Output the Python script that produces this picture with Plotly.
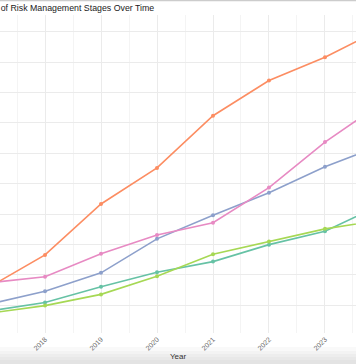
import plotly.graph_objects as go

years = [2017, 2018, 2019, 2020, 2021, 2022, 2023, 2024]

stage_names = ["Risk Assessment", "Risk Identification", "Risk Mitigation",
               "Risk Monitoring", "Risk Review"]
colors = ["#66c2a5", "#fc8d62", "#8da0cb", "#e78ac3", "#a6d854"]

assessment = [8.0, 10.8, 16.0, 20.8, 24.3, 29.9, 34.3, 43.0]
identification = [15.9, 26.5, 43.3, 55.2, 72.4, 84.0, 91.7, 101.0]
mitigation = [10.3, 14.5, 20.6, 31.8, 39.6, 47.0, 55.6, 62.6]
monitoring = [17.3, 19.3, 26.9, 33.1, 37.1, 48.7, 63.7, 76.4]
review = [7.3, 9.8, 13.5, 19.5, 26.7, 30.9, 35.1, 38.0]

series = [assessment, identification, mitigation, monitoring, review]

title_text = "of Risk Management Stages Over Time"
x_title = "Year"

fig = go.Figure()
for name, col, vals in zip(stage_names, colors, series):
    fig.add_trace(go.Scatter(
        x=years, y=vals, name=name, mode="lines+markers",
        line=dict(color=col, width=1.6),
        marker=dict(color=col, size=4),
        showlegend=False,
    ))

fig.update_layout(
    width=356, height=364,
    margin=dict(l=0, r=0, t=15, b=31, pad=0),
    paper_bgcolor="white", plot_bgcolor="white",
    font=dict(family="Liberation Sans, Arial, sans-serif"),
    title=dict(text=title_text, x=0.002, xref="container", xanchor="left",
               y=1 - 7.5 / 364, yref="container", yanchor="middle",
               font=dict(size=8.8, color="#1a1a1a")),
    xaxis=dict(
        range=[2017.196, 2023.554], tick0=2017, dtick=1,
        showgrid=True, gridcolor="#ebebeb", gridwidth=1,
        zeroline=False, showline=False, ticks="",
        tickangle=-45, tickfont=dict(size=7, color="#666666"),
        minor=dict(dtick=0.5, tick0=2017, showgrid=True,
                   gridcolor="#f4f4f4", gridwidth=1),
        title=dict(text=x_title, standoff=2,
                   font=dict(size=8, color="#333333")),
    ),
    yaxis=dict(
        range=[0.77, 105.6], tick0=0, dtick=10,
        showgrid=True, gridcolor="#ebebeb", gridwidth=1,
        zeroline=False, showline=False, ticks="",
        showticklabels=False,
    ),
    shapes=[
        dict(type="line", xref="paper", yref="paper", x0=0, x1=1,
             y0=(333 - 0.5) / 318, y1=(333 - 0.5) / 318,
             line=dict(color="#cccccc", width=1.5)),
    ] + [
        dict(type="rect", xref="paper", yref="paper", x0=0, x1=1,
             y0=(333 - 364) / 318, y1=(333 - y) / 318,
             fillcolor="#a0a0a0", opacity=0.06, line=dict(width=0),
             layer="below")
        for y in [347, 351, 354, 357, 360]
    ],
)

fig.write_html(
    "out.html",
    config={"displayModeBar": False},
    post_script="document.body.style.margin='0';document.body.style.padding='0';"
                "document.body.style.overflow='hidden';",
)
